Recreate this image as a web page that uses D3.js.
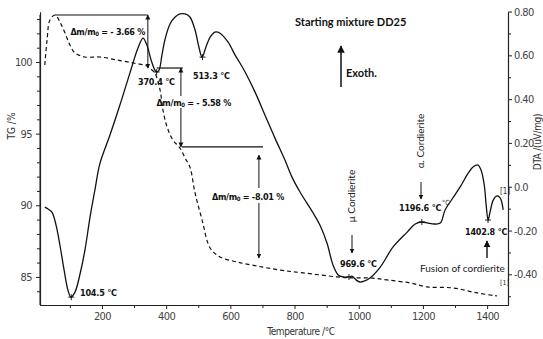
<!DOCTYPE html>
<html><head><meta charset="utf-8">
<script src="https://cdn.jsdelivr.net/npm/d3@7"></script>
<style>
body{margin:0;background:#fff}
text{font-family:"Liberation Sans Narrow","DejaVu Sans Condensed","Liberation Sans",sans-serif}
</style></head>
<body><svg id="c" width="543" height="339"></svg>
<script>
// ---- data ----
const dtaT = [22,32,44,57,69,82,94,103,116,131,147,163,178,194,225,256,287,312,328,340,353,365,371,378,387,396,412,428,443,459,474,490,502,512,524,537,552,568,593,615,630,646,677,708,739,770,792,817,858,879,901,920,936,951,970,979,992,1004,1017,1035,1067,1107,1151,1176,1197,1216,1235,1254,1269,1291,1316,1341,1356,1372,1381,1391,1397,1403,1409,1419,1431,1441,1450];
const dtaV = [-0.093,-0.102,-0.116,-0.175,-0.266,-0.380,-0.472,-0.504,-0.481,-0.403,-0.289,-0.138,-0.015,0.108,0.236,0.373,0.519,0.633,0.679,0.647,0.579,0.533,0.524,0.533,0.602,0.670,0.743,0.775,0.789,0.789,0.775,0.716,0.638,0.592,0.638,0.683,0.706,0.701,0.660,0.601,0.565,0.524,0.432,0.327,0.222,0.122,0.044,-0.024,-0.120,-0.175,-0.257,-0.358,-0.403,-0.412,-0.412,-0.408,-0.426,-0.435,-0.431,-0.417,-0.367,-0.275,-0.207,-0.170,-0.161,-0.166,-0.170,-0.166,-0.106,-0.056,-0.001,0.062,0.090,0.099,0.076,0.008,-0.084,-0.152,-0.116,-0.061,-0.042,-0.052,-0.106];
const tgT = [22,29,38,54,69,85,100,116,147,194,247,297,340,356,365,381,390,403,421,443,459,474,490,512,537,568,621,683,755,827,933,973,1035,1088,1160,1213,1294,1369,1431];
const tgV = [99.79,101.54,102.93,103.28,102.79,102.02,101.19,100.63,100.35,100.35,100.14,99.93,99.72,99.44,99.23,98.05,96.65,95.46,94.56,94.00,93.30,92.67,90.86,88.97,87.02,86.39,86.04,85.76,85.48,85.28,85.00,84.93,84.93,84.79,84.58,84.30,84.23,83.88,83.67];
const xTicks = [200,400,600,800,1000,1200,1400];
const xMinor = [100,300,500,700,900,1100,1300];
const tgTicks = [85,90,95,100];
const tgMinor = [84,86,87,88,89,91,92,93,94,96,97,98,99,101,102,103];
const dtaTicks = [0.8,0.6,0.4,0.2,0.0,-0.2,-0.4];
const dtaTickLabels = ["0.80","0.60","0.40","0.20","0.0","-0.20","-0.40"];
const dtaMinor = [0.7,0.5,0.3,0.1,-0.1,-0.3,-0.5];
// peaks marked on the DTA curve: [temperature, DTA value, label]
const peakT = [104.5,370.4,513.3,969.6,1196.6,1402.8];
const peakV = [-0.504,0.524,0.592,-0.412,-0.161,-0.152];
const peakLabels = ["104.5 °C","370.4 °C","513.3  °C","969.6 °C","1196.6 °C","1402.8  °C"];
const massLoss = ["- 3.66 %","- 5.58 %","-8.01 %"];

const svg = d3.select("#c");
const L=40,R=508,T=12,B=305;
const x = d3.scaleLinear().domain([7,1465]).range([L,R]);
const yL = d3.scaleLinear().domain([83.04,103.49]).range([B,T]);
const yR = d3.scaleLinear().domain([-0.540,0.798]).range([B,T]);
const ink="#222";

// axes
svg.append("g").attr("transform",`translate(0,${B})`)
  .call(d3.axisBottom(x).tickValues(xTicks).tickSize(4).tickSizeOuter(0).tickPadding(3).tickFormat(d3.format("d")));
svg.append("g").attr("transform",`translate(0,${B})`)
  .call(d3.axisBottom(x).tickValues(xMinor).tickSize(3).tickFormat("").tickSizeOuter(0));
svg.append("g").attr("transform",`translate(${L},0)`)
  .call(d3.axisLeft(yL).tickValues(tgTicks).tickSize(4).tickSizeOuter(0).tickPadding(4));
svg.append("g").attr("transform",`translate(${L},0)`)
  .call(d3.axisLeft(yL).tickValues(tgMinor).tickSize(3).tickFormat("").tickSizeOuter(0));
svg.append("g").attr("transform",`translate(${R},0)`)
  .call(d3.axisRight(yR).tickValues(dtaTicks).tickSize(4).tickSizeOuter(0).tickPadding(2)
    .tickFormat((d,i)=>dtaTickLabels[i]));
svg.append("g").attr("transform",`translate(${R},0)`)
  .call(d3.axisRight(yR).tickValues(dtaMinor).tickSize(3).tickFormat("").tickSizeOuter(0));
svg.selectAll(".domain").attr("stroke",ink).attr("stroke-width",1.1);
svg.selectAll(".tick line").attr("stroke",ink);
svg.selectAll(".tick text").attr("font-size",11).attr("fill","#444").attr("letter-spacing","-0.6")
  .style("font-family","'Liberation Sans Narrow','DejaVu Sans Condensed','Liberation Sans',sans-serif");
svg.append("line").attr("x1",L).attr("x2",L).attr("y1",T+3).attr("y2",B).attr("stroke",ink);

// axis titles
svg.append("text").attr("transform",`translate(15,126) rotate(-90)`).attr("text-anchor","middle")
  .attr("font-size",10).attr("fill","#333").text("TG /%");
svg.append("text").attr("transform",`translate(541,142) rotate(-90)`).attr("text-anchor","middle")
  .attr("font-size",10).attr("fill","#333").attr("letter-spacing","-0.3").text("DTA /(uV/mg)");
svg.append("text").attr("x",301).attr("y",335).attr("text-anchor","middle")
  .attr("font-size",10).attr("fill","#333").attr("letter-spacing","-0.4").text("Temperature /°C");

// curves
const dtaLine = d3.line().x(d=>x(d[0])).y(d=>yR(d[1])).curve(d3.curveCatmullRom.alpha(0.5));
const tgLine = d3.line().x(d=>x(d[0])).y(d=>yL(d[1])).curve(d3.curveCatmullRom.alpha(0.5));
svg.append("path").datum(dtaT.map((t,i)=>[t,dtaV[i]])).attr("d",dtaLine)
  .attr("fill","none").attr("stroke","#111").attr("stroke-width",1.3);
svg.append("path").datum(tgT.map((t,i)=>[t,tgV[i]])).attr("d",tgLine)
  .attr("fill","none").attr("stroke","#111").attr("stroke-width",1.2).attr("stroke-dasharray","4,3");

// peak cross marks
peakT.forEach((t,i)=>{
  const px=x(t), py=yR(peakV[i]);
  svg.append("path").attr("d",`M${px-3},${py}H${px+3}M${px},${py-3}V${py+3}`)
    .attr("stroke","#111").attr("stroke-width",0.9);
});

// arrow marker
const defs=svg.append("defs");
defs.append("marker").attr("id","ah").attr("viewBox","0 0 10 10").attr("refX",9).attr("refY",5)
  .attr("markerWidth",5).attr("markerHeight",6).attr("orient","auto-start-reverse")
  .append("path").attr("d","M0,0L10,5L0,10Z").attr("fill","#111");

function hline(t1,t2,v){svg.append("line").attr("x1",x(t1)).attr("x2",x(t2)).attr("y1",yL(v)).attr("y2",yL(v)).attr("stroke","#111").attr("stroke-width",1.2);}
function vline(t,y1,y2,s,e){const l=svg.append("line").attr("x1",x(t)).attr("x2",x(t)).attr("y1",y1).attr("y2",y2).attr("stroke","#111").attr("stroke-width",1);
  if(s) l.attr("marker-start","url(#ah)"); if(e) l.attr("marker-end","url(#ah)");}
function dm(xe,y,val){
  const t=svg.append("text").attr("x",xe).attr("y",y).attr("text-anchor","end").attr("font-size",9).attr("font-weight","bold").attr("fill","#111").attr("letter-spacing","-0.3");
  t.append("tspan").text("Δm/m");
  t.append("tspan").attr("font-size",6).attr("dy",1).text("0");
  t.append("tspan").attr("dy",-1).text(" = "+val);
}
// mass-loss step 1
hline(54,343,103.28);
vline(343,yL(103.28),yL(99.58),true,true);
dm(145,35,massLoss[0]);
// step 2
hline(371,452,99.58);
vline(446,yL(99.58),96,true,false);
vline(446,108,yL(94.07),false,true);
dm(231,106,massLoss[1]);
// step 3
hline(449,702,94.07);
vline(689,155,188,true,false);
vline(689,203,258,false,true);
dm(284,200,massLoss[2]);

// peak labels
const lab = (tx,ty,s,anchor)=>svg.append("text").attr("x",tx).attr("y",ty).attr("text-anchor",anchor||"start")
  .attr("font-size",9).attr("font-weight","bold").attr("fill","#111").attr("letter-spacing","-0.2").text(s);
lab(80,296,peakLabels[0]);
lab(138,85,peakLabels[1]);
lab(193,79,peakLabels[2]);
lab(340,267,peakLabels[3]);
lab(399,211,peakLabels[4]);
lab(465,235,peakLabels[5]);

// cordierite annotations
const cal = "Lato,'Open Sans',sans-serif";
svg.append("text").attr("transform",`translate(355,196) rotate(-90)`).attr("text-anchor","middle")
  .attr("font-size",10).attr("fill","#222").style("font-family",cal).text("μ Cordierite");
svg.append("line").attr("x1",352).attr("x2",352).attr("y1",235).attr("y2",253).attr("stroke","#111").attr("marker-end","url(#ah)");
svg.append("text").attr("transform",`translate(424,141) rotate(-90)`).attr("text-anchor","middle")
  .attr("font-size",10).attr("fill","#222").style("font-family",cal).text("α. Cordierite");
svg.append("line").attr("x1",421).attr("x2",421).attr("y1",182).attr("y2",199).attr("stroke","#111").attr("marker-end","url(#ah)");
svg.append("line").attr("x1",487).attr("x2",487).attr("y1",258).attr("y2",241).attr("stroke","#111").attr("stroke-width",1.4).attr("marker-end","url(#ah)");
svg.append("text").attr("x",420).attr("y",272).attr("font-size",10).attr("fill","#222").style("font-family",cal).text("Fusion of cordierite");

// title and exotherm arrow
svg.append("text").attr("x",295).attr("y",26).attr("font-size",11).attr("font-weight","bold").attr("fill","#111")
  .style("font-family",cal).text("Starting mixture DD25");
svg.append("line").attr("x1",341).attr("x2",341).attr("y1",87).attr("y2",46).attr("stroke","#111").attr("stroke-width",1.5).attr("marker-end","url(#ah)");
svg.append("text").attr("x",346).attr("y",77).attr("font-size",11).attr("font-weight","bold").attr("fill","#111")
  .style("font-family",cal).text("Exoth.");

// small bits
svg.append("text").attr("x",442).attr("y",205).attr("font-size",7).attr("fill","#333").text("°C");
svg.append("text").attr("x",500).attr("y",194).attr("font-size",8).attr("fill","#333").text("[1]");
svg.append("text").attr("x",500).attr("y",285).attr("font-size",7).attr("fill","#333").text("[1]");
</script></body></html>
